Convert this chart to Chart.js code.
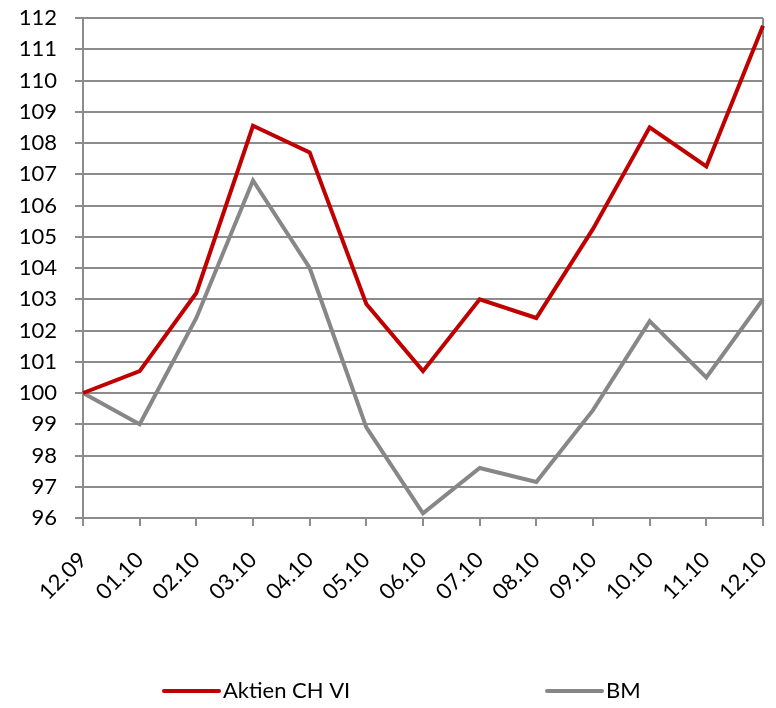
<!DOCTYPE html>
<html>
<head>
<meta charset="utf-8">
<style>
  html, body { margin: 0; padding: 0; background: #fff; }
  #wrap { width: 776px; height: 708px; }
</style>
</head>
<body>
<div id="wrap">
  <canvas id="chart"></canvas>
</div>

<script src="https://cdn.jsdelivr.net/npm/chart.js"></script>

<script>
  const labels = ['12.09', '01.10', '02.10', '03.10', '04.10', '05.10', '06.10',
    '07.10', '08.10', '09.10', '10.10', '11.10', '12.10'];
  const aktien = [100, 100.7, 103.2, 108.55, 107.7, 102.85, 100.7, 103.0, 102.4, 105.25, 108.5, 107.25, 111.75];
  const bm = [100, 99.0, 102.4, 106.8, 104.0, 98.9, 96.15, 97.6, 97.15, 99.45, 102.3, 100.5, 103.0];
  const yTicks = [96, 112, 1]; // min, max, step

  const FONT = 'Lato, "Open Sans", sans-serif';
  const GRID = '#8c8c8c';

  // legend drawn at the bottom, items far apart like the original
  const bottomLegend = {
    id: 'bottomLegend',
    afterDraw(chart) {
      const { ctx } = chart;
      const spots = [164, 547];
      const y = 691;
      ctx.save();
      ctx.font = '22px ' + FONT;
      ctx.textBaseline = 'middle';
      chart.data.datasets.forEach((ds, i) => {
        const x = spots[i];
        ctx.strokeStyle = ds.borderColor;
        ctx.lineWidth = 4;
        ctx.lineCap = 'round';
        ctx.beginPath();
        ctx.moveTo(x, y);
        ctx.lineTo(x + 55, y);
        ctx.stroke();
        ctx.fillStyle = '#000';
        ctx.fillText(ds.label, x + 59, y);
      });
      ctx.restore();
    },
  };

  const ctx = document.getElementById('chart');

  const chart = new Chart(ctx, {
    type: 'line',
    data: {
      labels: labels,
      datasets: [
        { label: 'Aktien CH VI', data: aktien, borderColor: '#c00000', borderWidth: 4 },
        { label: 'BM', data: bm, borderColor: '#878787', borderWidth: 4 },
      ],
    },
    options: {
      responsive: true,
      maintainAspectRatio: false,
      animation: false,
      devicePixelRatio: 1,
      layout: { padding: { top: 18, right: 13, left: 0, bottom: 0 } },
      elements: {
        point: { radius: 0 },
        line: { tension: 0, borderJoinStyle: 'miter', borderCapStyle: 'butt' },
      },
      plugins: {
        legend: { display: false },
        tooltip: { enabled: false },
      },
      scales: {
        x: {
          offset: false,
          afterFit: (s) => { s.height = 190; s.paddingLeft = 0; s.paddingRight = 0; },
          border: { color: GRID, width: 2 },
          grid: {
            offset: false,
            lineWidth: 2,
            tickLength: 8,
            tickColor: GRID,
            color: (c) => (c.index === labels.length - 1 ? GRID : 'rgba(0,0,0,0)'),
          },
          ticks: {
            autoSkip: false,
            minRotation: 45,
            maxRotation: 45,
            padding: 21,
            color: '#000',
            font: { family: FONT, size: 22 },
          },
        },
        y: {
          min: yTicks[0],
          max: yTicks[1],
          afterFit: (s) => { s.width = 83; s.paddingTop = 0; s.paddingBottom = 0; },
          border: { color: GRID, width: 2 },
          grid: { color: GRID, lineWidth: 2, tickLength: 8 },
          ticks: {
            stepSize: yTicks[2],
            padding: 18,
            color: '#000',
            font: { family: FONT, size: 22 },
          },
        },
      },
    },
    plugins: [bottomLegend],
  });
</script>
</body>
</html>
